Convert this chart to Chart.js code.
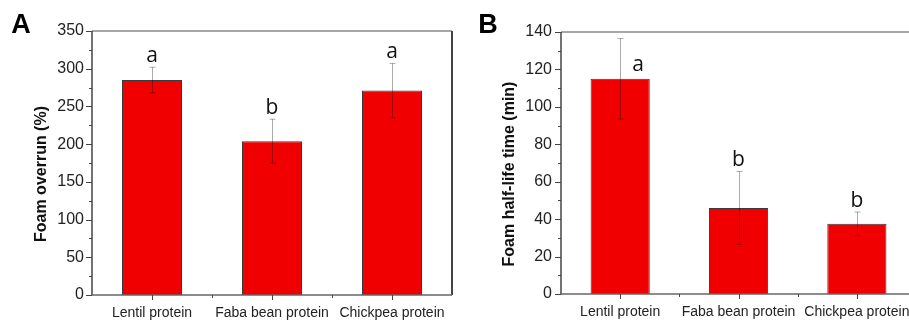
<!DOCTYPE html>
<html>
<head>
<meta charset="utf-8">
<script src="https://cdn.jsdelivr.net/npm/chart.js@4.4.1/dist/chart.umd.min.js"></script>
<style>
  html, body { margin: 0; padding: 0; background: #fff; overflow: hidden; }
  .panel { position: absolute; top: 0; }
</style>
</head>
<body>
<div class="panel" style="left:0"><canvas id="chartA" width="460" height="320"></canvas></div>
<div class="panel" style="left:460px"><canvas id="chartB" width="460" height="320"></canvas></div>
<script>
// categories shared by both panels
const categories = ["Lentil protein", "Faba bean protein", "Chickpea protein"];

// panel A - foam overrun (%)
const overrunMeans = [285, 204, 271];
const overrunErrors = [17, 29, 36];
const overrunLetters = ["a", "b", "a"];
const overrunTicks = [0, 50, 100, 150, 200, 250, 300, 350];

// panel B - foam half-life time (min)
const halfLifeMeans = [115, 46, 37.5];
const halfLifeErrors = [21.5, 19.5, 6.3];
const halfLifeLetters = ["a", "b", "b"];
const halfLifeTicks = [0, 20, 40, 60, 80, 100, 120, 140];

const TICK_FONT = '"Liberation Sans", Arial, sans-serif';

function line(ctx, x1, y1, x2, y2, color, width) {
    ctx.strokeStyle = color;
    ctx.lineWidth = width;
    ctx.beginPath();
    ctx.moveTo(x1, y1);
    ctx.lineTo(x2, y2);
    ctx.stroke();
}

// everything Chart.js doesn't do out of the box: frame, minor ticks, error bars, letters
function drawExtras(chart, panel) {
    const ctx = chart.ctx;
    const xs = chart.scales.x;
    const ys = chart.scales.y;
    const a = chart.chartArea;
    ctx.save();

    // error bars (semi transparent, so they look dark red over the bar)
    panel.means.forEach((m, i) => {
        const x = Math.round(xs.getPixelForValue(i)) + 0.5;
        const top = ys.getPixelForValue(m + panel.errors[i]);
        const bot = ys.getPixelForValue(m - panel.errors[i]);
        ctx.strokeStyle = 'rgba(0,0,0,0.33)';
        ctx.lineWidth = 1;
        ctx.beginPath();
        ctx.moveTo(x, top); ctx.lineTo(x, bot);
        ctx.moveTo(x - 3, top); ctx.lineTo(x + 3, top);
        ctx.moveTo(x - 3, bot); ctx.lineTo(x + 3, bot);
        ctx.stroke();
    });

    // significance letters
    ctx.fillStyle = '#111';
    ctx.font = '21px "Open Sans", sans-serif';
    ctx.textAlign = 'center';
    ctx.textBaseline = 'alphabetic';
    panel.letters.forEach((l, i) => {
        const onBar = panel.letterOnBar[i];
        const v = onBar ? panel.means[i] : panel.means[i] + panel.errors[i];
        const x = xs.getPixelForValue(i) + (onBar ? 18 : 0);
        const y = ys.getPixelForValue(v) - (onBar ? 8 : 5);
        ctx.fillText(l, x, y);
    });

    // frame
    line(ctx, a.left, a.top, a.right, a.top, '#8a8a8a', 1.5);
    line(ctx, a.right, a.top, a.right, a.bottom, '#444', 2);
    line(ctx, a.left, a.bottom, a.right, a.bottom, '#666', 1.5);
    line(ctx, a.left, a.top, a.left, a.bottom, '#444', 1.5);

    // y ticks, major + minor
    const max = panel.ticks[panel.ticks.length - 1];
    const step = panel.ticks[1] - panel.ticks[0];
    for (let v = 0; v <= max; v += step / 2) {
        const y = Math.round(ys.getPixelForValue(v)) + 0.5;
        const len = (v % step === 0) ? 6 : 3;
        line(ctx, a.left - len, y, a.left, y, '#444', 1);
    }
    // x ticks at categories and in between
    for (let i = 0; i < categories.length; i++) {
        const x = Math.round(xs.getPixelForValue(i)) + 0.5;
        line(ctx, x, a.bottom, x, a.bottom + 5, '#444', 1);
        if (i < categories.length - 1) {
            const xm = Math.round((xs.getPixelForValue(i) + xs.getPixelForValue(i + 1)) / 2) + 0.5;
            line(ctx, xm, a.bottom, xm, a.bottom + 3, '#444', 1);
        }
    }

    // panel tag
    ctx.fillStyle = '#000';
    ctx.font = 'bold 27px "Liberation Sans", Arial, sans-serif';
    ctx.textAlign = 'center';
    ctx.fillText(panel.tag, panel.tagX, 33);

    // y title
    ctx.font = 'bold 16px "Liberation Sans", Arial, sans-serif';
    ctx.fillStyle = '#111';
    ctx.textBaseline = 'middle';
    ctx.translate(panel.titleX, panel.titleY);
    ctx.rotate(-Math.PI / 2);
    ctx.fillText(panel.title, 0, 0);

    ctx.restore();
}

function makePanel(canvasId, panel) {
    const chart = new Chart(document.getElementById(canvasId), {
        type: 'bar',
        data: {
            labels: categories,
            datasets: [{
                data: panel.means,
                backgroundColor: '#f00000',
                borderColor: '#3a3a3a',
                borderWidth: 1,
                barPercentage: 0.5,
                categoryPercentage: 1
            }]
        },
        options: {
            responsive: false,
            animation: false,
            layout: { padding: { left: 0, top: panel.top, right: panel.right, bottom: 0 } },
            plugins: { legend: { display: false }, tooltip: { enabled: false } },
            scales: {
                x: {
                    grid: { display: false, drawTicks: false },
                    border: { display: false },
                    ticks: {
                        color: '#222',
                        font: { family: TICK_FONT, size: 14 },
                        padding: 10,
                        maxRotation: 0,
                        autoSkip: false
                    },
                    afterFit: s => { s.height = panel.xHeight; }
                },
                y: {
                    min: panel.ticks[0],
                    max: panel.ticks[panel.ticks.length - 1],
                    grid: { display: false, drawTicks: false },
                    border: { display: false },
                    ticks: {
                        stepSize: panel.ticks[1] - panel.ticks[0],
                        color: '#222',
                        font: { family: TICK_FONT, size: 16 },
                        padding: panel.tickPad
                    },
                    afterFit: s => { s.width = panel.yWidth; }
                }
            }
        },
        plugins: [{
            id: 'extras',
            afterDatasetsDraw: c => drawExtras(c, panel)
        }]
    });
    return chart;
}

makePanel('chartA', {
    means: overrunMeans, errors: overrunErrors, letters: overrunLetters, ticks: overrunTicks,
    letterOnBar: [false, false, false],
    tag: 'A', tagX: 21, title: 'Foam overrun (%)', titleX: 42, titleY: 174,
    top: 31, right: 8, xHeight: 25, yWidth: 92, tickPad: 8
});

makePanel('chartB', {
    means: halfLifeMeans, errors: halfLifeErrors, letters: halfLifeLetters, ticks: halfLifeTicks,
    letterOnBar: [true, false, false],
    tag: 'B', tagX: 28, title: 'Foam half-life time (min)', titleX: 50, titleY: 174,
    top: 32, right: 3.5, xHeight: 26, yWidth: 101, tickPad: 9
});
</script>
</body>
</html>
